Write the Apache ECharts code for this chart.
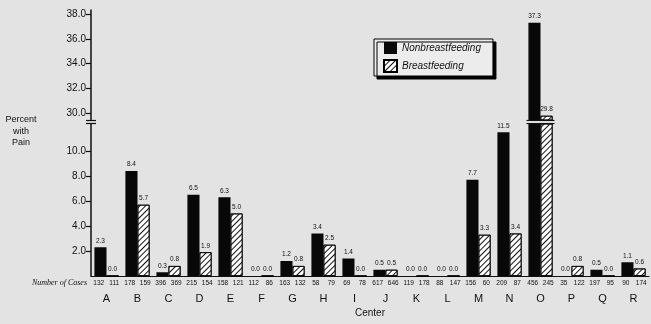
<!DOCTYPE html>
<html>
<head>
<meta charset="utf-8">
<script src="https://cdn.jsdelivr.net/npm/echarts@6/dist/echarts.min.js"></script>
<style>
html,body{margin:0;padding:0;background:#e3e3e3;}
#chart{width:651px;height:324px;}
</style>
</head>
<body>
<div id="chart"></div>
<script>
const categories = ['A','B','C','D','E','F','G','H','I','J','K','L','M','N','O','P','Q','R'];
const nonBreast = [2.3,8.4,0.3,6.5,6.3,0.0,1.2,3.4,1.4,0.5,0.0,0.0,7.7,11.5,37.3,0.0,0.5,1.1];
const breast    = [0.0,5.7,0.8,1.9,5.0,0.0,0.8,2.5,0.0,0.5,0.0,0.0,3.3,3.4,29.8,0.8,0.0,0.6];
const casesNon    = [132,178,396,215,158,112,163,58,69,617,119,88,156,209,456,35,197,90];
const casesBreast = [111,159,369,154,121,86,132,79,78,646,178,147,60,87,245,122,95,174];
const upperTicks = [30,32,34,36,38];
const lowerTicks = [2,4,6,8,10];
const seriesNames = ['Nonbreastfeeding','Breastfeeding'];

const LOWER_MAX = 12.16, UPPER_MIN = 29.46, UPPER_MAX = 38.32;

const caseSlots = [];
categories.forEach((c,i)=>{ caseSlots.push(String(casesNon[i])); caseSlots.push(String(casesBreast[i])); });
const caseIdx = caseSlots.map((_,i)=>String(i));

function lowerData(arr){ return arr.map(v => v > LOWER_MAX ? {value:v, label:{show:false}} : v); }
function upperData(arr){ return arr.map(v => v > LOWER_MAX ? v : '-'); }

const FONT = 'Liberation Sans, Arial, sans-serif';
const hatch = {
  color:'#ffffff', borderColor:'#000', borderWidth:0.8,
  decal:{symbol:'rect', symbolSize:1, dashArrayX:[1,0], dashArrayY:[1,2.4], rotation:-Math.PI/4, color:'#111'}
};
const solid = {color:'#080808'};
const valLabel = {show:true, position:'top', distance:3, fontSize:6.5, color:'#111', fontFamily:FONT,
  formatter: p => Number(p.value).toFixed(1)};

const chart = echarts.init(document.getElementById('chart'), null, {renderer:'canvas'});
const yAxisCommon = {
  type:'value', splitLine:{show:false},
  axisLine:{show:true, lineStyle:{color:'#111', width:1.5}},
  axisTick:{show:true, length:5, lineStyle:{color:'#111', width:1.2}},
  axisLabel:{fontSize:10, color:'#111', fontFamily:FONT, margin:5, formatter: v => Number(v).toFixed(1)}
};
chart.setOption({
  backgroundColor:'#e3e3e3',
  animation:false,
  grid:[
    {left:91, width:558, top:10, height:110},
    {left:91, width:558, top:124, height:152}
  ],
  legend:{
    orient:'vertical', left:374, top:39, data:seriesNames, icon:'rect',
    itemWidth:13, itemHeight:12, itemGap:5,
    padding:[3,12,3,9],
    backgroundColor:'#ececec', borderColor:'#000', borderWidth:1,
    shadowColor:'#000', shadowBlur:0, shadowOffsetX:3, shadowOffsetY:3,
    textStyle:{fontSize:10, fontStyle:'italic', color:'#111', fontFamily:FONT}
  },
  xAxis:[
    {type:'category', gridIndex:0, data:categories, show:false},
    {type:'category', gridIndex:1, data:categories, position:'bottom',
      axisLine:{lineStyle:{color:'#111', width:1.2}},
      axisTick:{length:3, lineStyle:{color:'#111'}},
      axisLabel:{fontSize:11, color:'#111', fontFamily:FONT, margin:17},
      name:'Center', nameLocation:'middle', nameGap:32,
      nameTextStyle:{fontSize:10, color:'#111', fontFamily:FONT}},
    {type:'category', gridIndex:1, data:caseIdx, position:'bottom',
      axisLine:{show:false}, axisTick:{show:false},
      axisLabel:{interval:0, fontSize:6.5, color:'#111', fontFamily:FONT, margin:4,
        formatter: v => caseSlots[+v]}}
  ],
  yAxis:[
    Object.assign({}, yAxisCommon, {gridIndex:0, min:UPPER_MIN, max:UPPER_MAX,
      axisTick:Object.assign({}, yAxisCommon.axisTick, {customValues:upperTicks}),
      axisLabel:Object.assign({}, yAxisCommon.axisLabel, {customValues:upperTicks})}),
    Object.assign({}, yAxisCommon, {gridIndex:1, min:0, max:LOWER_MAX,
      axisTick:Object.assign({}, yAxisCommon.axisTick, {customValues:lowerTicks}),
      axisLabel:Object.assign({}, yAxisCommon.axisLabel, {customValues:lowerTicks})})
  ],
  series:[
    {name:seriesNames[0], type:'bar', xAxisIndex:1, yAxisIndex:1, data:lowerData(nonBreast),
      itemStyle:solid, label:valLabel, barGap:'0%', barCategoryGap:'22%', clip:true},
    {name:seriesNames[1], type:'bar', xAxisIndex:1, yAxisIndex:1, data:lowerData(breast),
      itemStyle:hatch, label:valLabel, barGap:'0%', barCategoryGap:'22%', clip:true},
    {name:seriesNames[0], type:'bar', xAxisIndex:0, yAxisIndex:0, data:upperData(nonBreast),
      itemStyle:solid, label:valLabel, barGap:'0%', barCategoryGap:'22%', clip:true},
    {name:seriesNames[1], type:'bar', xAxisIndex:0, yAxisIndex:0, data:upperData(breast),
      itemStyle:hatch, label:valLabel, barGap:'0%', barCategoryGap:'22%', clip:true}
  ]
});

// break marks (decorations) derived from the axes
const yTop = chart.convertToPixel({yAxisIndex:0}, UPPER_MIN);
const yBot = chart.convertToPixel({yAxisIndex:1}, LOWER_MAX);
const axisX = chart.convertToPixel({xAxisIndex:1}, categories[0]) - 15.5;
const gfx = [];
const lineStyle = {stroke:'#111', lineWidth:1.2};
[yTop+0.5, yBot-0.5].forEach(y=>{
  gfx.push({type:'line', shape:{x1:axisX-5, y1:y, x2:axisX+5, y2:y}, style:lineStyle, z:100});
});
categories.forEach((c,i)=>{
  if (nonBreast[i] > LOWER_MAX || breast[i] > LOWER_MAX) {
    const cx = chart.convertToPixel({xAxisIndex:1}, c);
    gfx.push({type:'rect', shape:{x:cx-14, y:yTop, width:28, height:yBot-yTop}, style:{fill:'#f4f4f4'}, z:99});
    [yTop+0.5, yBot-0.5].forEach(y=>{
      gfx.push({type:'line', shape:{x1:cx-14, y1:y, x2:cx+14, y2:y}, style:lineStyle, z:100});
    });
  }
});
gfx.push({type:'text', x:21, y:114, style:{text:'Percent\nwith\nPain', align:'center', verticalAlign:'top',
  fontSize:9, lineHeight:11.5, fill:'#111', fontFamily:FONT}});
gfx.push({type:'text', x:87, y:283, style:{text:'Number of Cases', align:'right', verticalAlign:'middle',
  fontSize:8, fontStyle:'italic', fill:'#111', fontFamily:'Liberation Serif, serif'}});
chart.setOption({graphic:gfx});
</script>
</body>
</html>
